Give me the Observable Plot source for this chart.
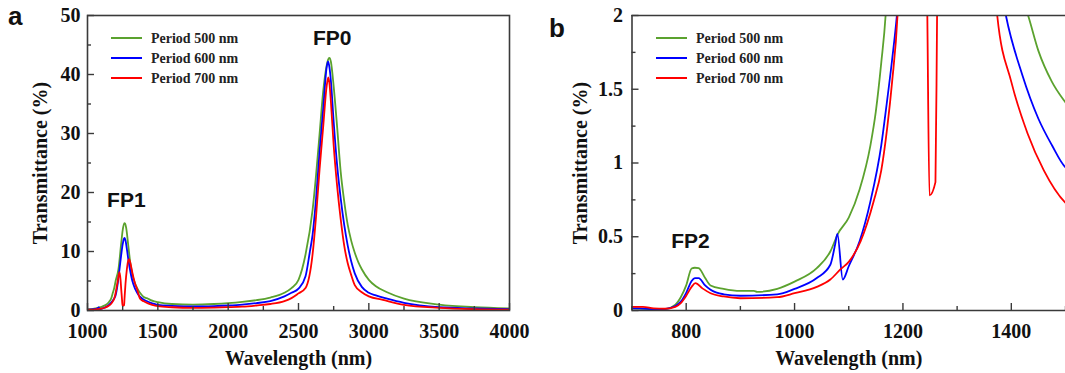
<!DOCTYPE html>
<html><head><meta charset="utf-8">
<script src="https://cdn.jsdelivr.net/npm/d3@7"></script>
<script src="https://cdn.jsdelivr.net/npm/@observablehq/plot@0.6"></script>
<style>
body{margin:0;background:#fff;}
#wrap{position:relative;width:1065px;height:373px;overflow:hidden;background:#fff;}
#wrap > svg{position:absolute;top:0;}
</style></head><body><div id="wrap"></div>
<script>
// ---- data ----
const seriesNames = ["Period 500 nm", "Period 600 nm", "Period 700 nm"];
const seriesColors = ["#5ba22e", "#0000ff", "#ff0000"];

const wl500 = [700,720,740,760,780,790,800,810,816,823,835,845,869,900,925,931,968,1000,1041,1066,1080,1100,1120,1140,1150,1160,1168,1180,1190,1200,1220,1240,1250,1262,1268,1275,1290,1303,1320,1340,1360,1380,1400,1431,1450,1475,1500,1600,1750,1900,2000,2100,2200,2300,2400,2450,2500,2550,2600,2625,2650,2675,2700,2710,2720,2730,2750,2775,2800,2825,2850,2875,2900,2925,2950,3000,3050,3130,3250,3500,3750,4000];
const t500  = [0.015,0.012,0.01,0.01,0.04,0.09,0.17,0.285,0.29,0.287,0.22,0.17,0.147,0.133,0.133,0.126,0.147,0.196,0.287,0.4,0.52,0.63,0.82,1.12,1.35,1.68,2.0,3.0,3.8,5.0,7.0,11.5,13.6,14.8,14.7,14.0,11.0,8.3,6.0,4.5,3.5,2.8,2.3,2.0,1.76,1.55,1.41,1.1,1.0,1.1,1.24,1.45,1.75,2.2,3.0,3.8,5.2,9.5,17,23,30,37,41.5,42.5,42.8,42.2,38,31,23.5,18.5,14.5,11.8,9.8,8.2,7.0,5.2,4.1,3.1,2.0,1.0,0.56,0.35];

const wl600 = [700,720,740,760,780,790,800,810,816,823,835,845,869,900,968,1000,1041,1066,1075,1079,1089,1100,1120,1140,1160,1170,1180,1190,1200,1210,1220,1230,1240,1250,1258,1264,1270,1280,1292,1300,1320,1340,1360,1390,1420,1450,1475,1500,1600,1750,1900,2000,2100,2200,2300,2400,2450,2500,2550,2581,2600,2625,2650,2675,2700,2710,2720,2730,2750,2775,2800,2825,2850,2875,2900,2950,3000,3050,3130,3250,3500,3750,4000];
const t600  = [0.015,0.013,0.01,0.01,0.03,0.06,0.12,0.2,0.22,0.22,0.17,0.14,0.11,0.1,0.11,0.147,0.22,0.31,0.45,0.52,0.21,0.30,0.47,0.74,1.12,1.4,1.7,2.05,2.6,3.8,5.5,7.5,9.5,11.2,12.1,12.3,11.9,10.4,8.35,7.2,4.9,3.6,2.7,2.0,1.6,1.3,1.12,0.97,0.8,0.68,0.75,0.85,1.0,1.25,1.6,2.4,3.0,3.7,5.8,10,12.8,19,27,34,41.2,42.2,41.2,39,32,24.5,19,14.5,11,8.3,6.3,4.0,3.0,2.55,2.0,1.3,0.56,0.34,0.22];

const wl700 = [700,720,740,760,780,790,800,810,817,830,845,869,900,968,1000,1041,1066,1085,1100,1122,1146,1160,1171,1180,1190,1200,1215,1227,1235,1240,1245,1249,1260,1263,1270,1280,1290,1296,1305,1320,1340,1350,1374,1400,1430,1460,1500,1600,1750,1900,2000,2100,2200,2300,2400,2450,2500,2550,2600,2625,2650,2675,2700,2712,2720,2730,2750,2775,2800,2825,2850,2875,2900,2950,3000,3100,3250,3500,3750,4000];
const t700  = [0.025,0.025,0.015,0.012,0.025,0.05,0.1,0.16,0.185,0.15,0.117,0.095,0.083,0.09,0.117,0.16,0.21,0.28,0.33,0.47,0.74,0.95,1.24,1.55,2.0,3.0,5.0,6.5,5.2,3.5,2.0,0.78,0.87,2.0,4.5,7.0,8.5,8.7,8.0,6.3,4.4,3.8,2.0,1.55,1.2,0.95,0.73,0.55,0.45,0.5,0.56,0.65,0.85,1.1,1.6,2.1,2.9,3.8,9.5,16,24,31,38,39.5,38.5,35.5,28,21,15.5,11,8,6,4.3,3.1,2.4,1.8,0.96,0.45,0.23,0.15];

// axes / ticks
const aXMajor = [1000,1500,2000,2500,3000,3500,4000];
const aXMinor = [1250,1750,2250,2750,3250,3750];
const aYMajor = [0,10,20,30,40,50];
const aYMinor = [5,15,25,35,45];
const bXMajor = [800,1000,1200,1400];
const bXMinor = [700,900,1100,1300,1500];
const bYMajor = [0,0.5,1,1.5,2];
const bYMinor = [0.25,0.75,1.25,1.75];

// peak annotations
const aPeakLabels = ["FP1","FP0"];
const aPeakX = [1276,2740];
const aPeakY = [18.7,46.2];
const bPeakLabels = ["FP2"];
const bPeakX = [808];
const bPeakY = [0.47];

// ---- build ----
const series = [[wl500,t500],[wl600,t600],[wl700,t700]].map(([w,t],i) => ({
  name: seriesNames[i], color: seriesColors[i],
  data: w.map((x,j) => ({wl: x, t: t[j]}))
}));

const AX = "#3a3a3a";
const blank = () => "";
function panel(o) {
  const lines = series.map(s => Plot.line(s.data, {x: "wl", y: "t", stroke: s.color, strokeWidth: 1.8, curve: "monotone-x", clip: true}));
  const peaks = o.peakLabels.map((l,i) => ({l, x: o.peakX[i], y: o.peakY[i]}));
  const frameMarks = o.full
    ? [Plot.frame({stroke: AX, strokeWidth: 1.6})]
    : [Plot.ruleY([o.yDomain[0], o.yDomain[1]], {stroke: AX, strokeWidth: 1.6}), Plot.ruleX([o.xDomain[0]], {stroke: AX, strokeWidth: 1.6})];
  return Plot.plot({
    width: o.width, height: 373,
    marginLeft: o.marginLeft, marginRight: o.marginRight, marginTop: 15, marginBottom: 63,
    x: {domain: o.xDomain}, y: {domain: o.yDomain},
    style: {fontFamily: "'Liberation Serif', 'Times New Roman', serif", fontSize: "20px", fontWeight: "bold", color: "#111", overflow: "visible", background: "transparent"},
    marks: [
      ...lines,
      ...frameMarks,
      Plot.axisX(o.xMajor, {tickSize: -7, tickPadding: 20, stroke: AX, strokeWidth: 1.4, tickFormat: d => String(d), label: "Wavelength (nm)", labelAnchor: "center", labelOffset: 54, labelArrow: "none"}),
      Plot.axisX(o.xMinor, {tickSize: -4, stroke: AX, strokeWidth: 1.4, tickFormat: blank, label: null}),
      Plot.axisY(o.yMajor, {tickSize: -7, tickPadding: o.yPad, stroke: AX, strokeWidth: 1.4, tickFormat: d => String(d), label: "Transmittance (%)", labelAnchor: "center", labelOffset: o.yLabelOffset, labelArrow: "none"}),
      Plot.axisY(o.yMinor, {tickSize: -4, stroke: AX, strokeWidth: 1.4, tickFormat: blank, label: null}),
      Plot.text(peaks, {x: "x", y: "y", text: "l", fontFamily: "'Liberation Sans', Arial, sans-serif", fontSize: 21, fontWeight: "bold", fill: "#111"})
    ]
  });
}

const wrap = document.getElementById("wrap");
const pa = panel({width: 540, marginLeft: 87, marginRight: 31, xDomain: [1000,4000], yDomain: [0,50],
  xMajor: aXMajor, xMinor: aXMinor, yMajor: aYMajor, yMinor: aYMinor, yPad: 14, yLabelOffset: 55,
  peakLabels: aPeakLabels, peakX: aPeakX, peakY: aPeakY, full: true});
pa.style.left = "0px";
const pb = panel({width: 525, marginLeft: 91.5, marginRight: 0, xDomain: [700,1500], yDomain: [0,2],
  xMajor: bXMajor, xMinor: bXMinor, yMajor: bYMajor, yMinor: bYMinor, yPad: 16, yLabelOffset: 59,
  peakLabels: bPeakLabels, peakX: bPeakX, peakY: bPeakY, full: false});
pb.style.left = "540px";
wrap.appendChild(pb);
wrap.appendChild(pa);

// overlay: panel letters and legends
const ov = d3.select(wrap).append("svg").attr("width", 1065).attr("height", 373).style("left", "0px").style("pointer-events", "none");
ov.append("text").attr("x", 8).attr("y", 25).text("a").attr("font-family", "'Liberation Sans', Arial, sans-serif").attr("font-weight", "bold").attr("font-size", 26).attr("fill", "#111");
ov.append("text").attr("x", 549).attr("y", 37).text("b").attr("font-family", "'Liberation Sans', Arial, sans-serif").attr("font-weight", "bold").attr("font-size", 26).attr("fill", "#111");
function legend(x0) {
  series.forEach((s, i) => {
    const cy = 38 + i * 20;
    ov.append("line").attr("x1", x0).attr("x2", x0 + 31).attr("y1", cy).attr("y2", cy).attr("stroke", s.color).attr("stroke-width", 2);
    ov.append("text").attr("x", x0 + 40).attr("y", cy + 5).text(s.name)
      .attr("font-family", "'Liberation Serif', 'Times New Roman', serif").attr("font-weight", "bold").attr("font-size", 14).attr("fill", "#222");
  });
}
legend(111);
legend(656);
</script></body></html>
